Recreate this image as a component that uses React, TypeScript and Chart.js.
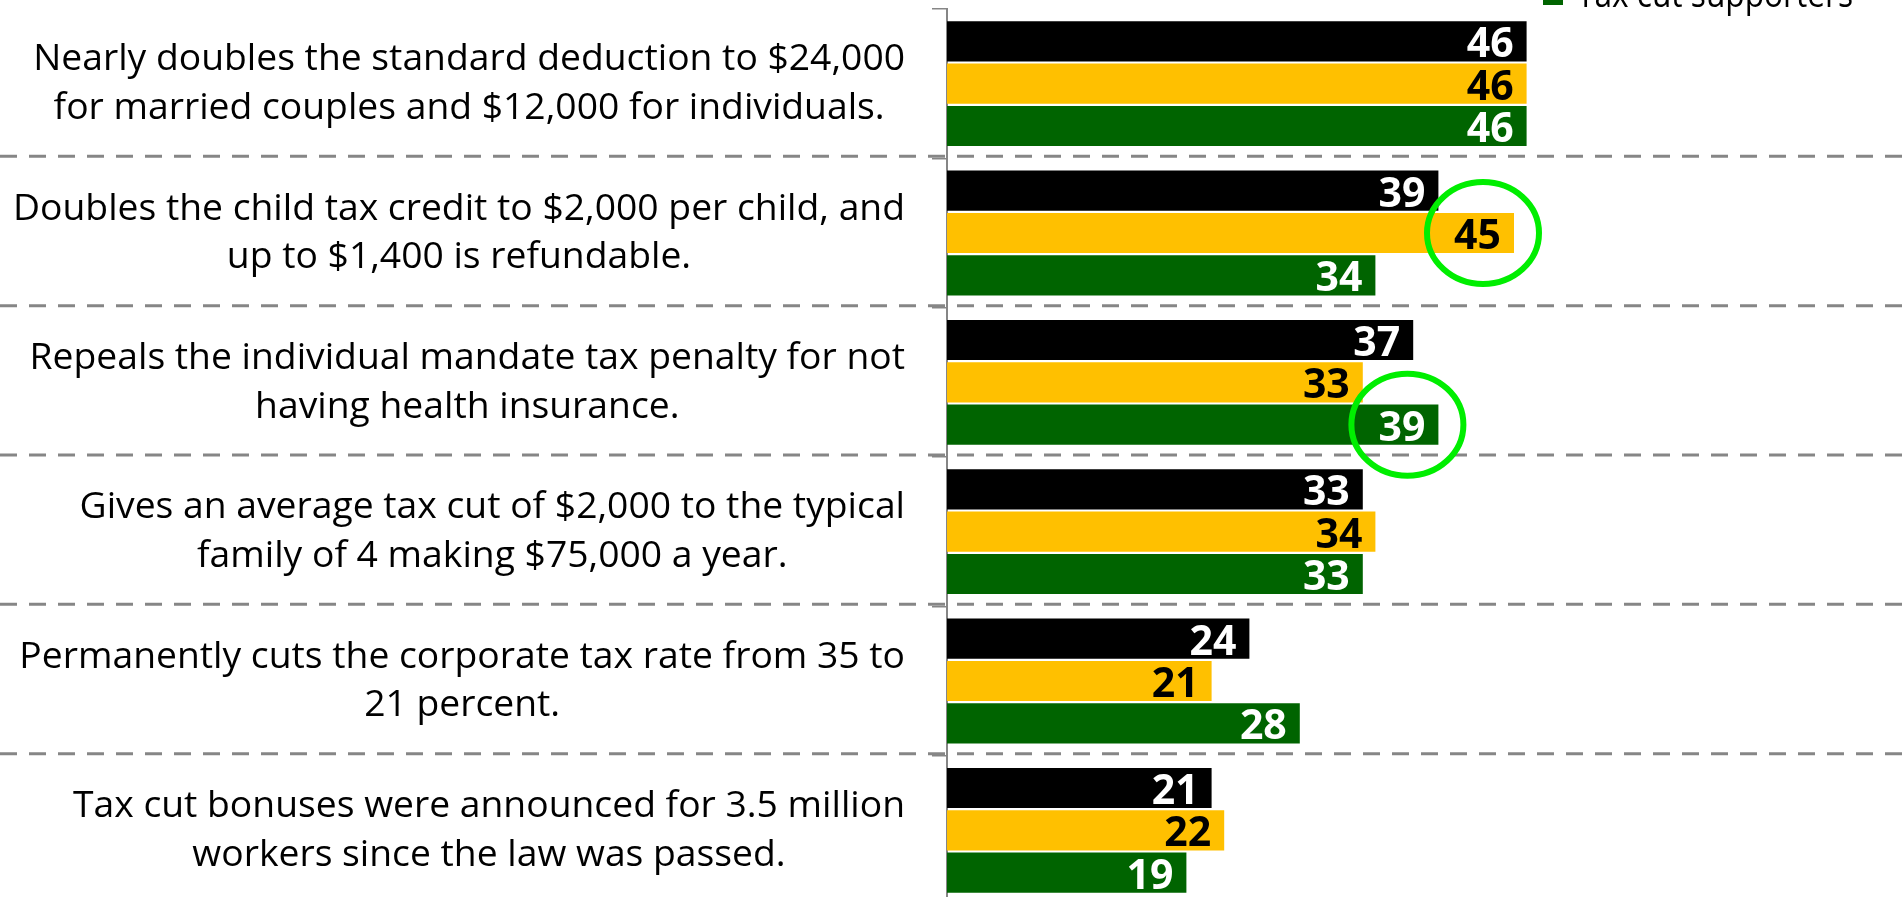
import React, { useEffect, useRef } from "react";
import { Chart, registerables } from "chart.js";

Chart.register(...registerables);

// ---- data ----
const categories: string[][] = [
  ["Nearly doubles the standard deduction to $24,000", "for married couples and $12,000 for individuals."],
  ["Doubles the child tax credit to $2,000 per child, and", "up to $1,400 is refundable."],
  ["Repeals the individual mandate tax penalty for not", "having health insurance."],
  ["Gives an average tax cut of $2,000 to the typical", "family of 4 making $75,000 a year."],
  ["Permanently cuts the corporate tax rate from 35 to", "21 percent."],
  ["Tax cut bonuses were announced for 3.5 million", "workers since the law was passed."],
];
const seriesNames = ["All voters", "Tax cut opponents", "Tax cut supporters"];
const allVoters = [46, 39, 37, 33, 24, 21];
const secondSeries = [46, 45, 33, 34, 21, 22];
const supporters = [46, 34, 39, 33, 28, 19];
const seriesColors = ["#000000", "#FFC000", "#006400"];
const valueLabelColors = ["#FFFFFF", "#000000", "#FFFFFF"];
const highlighted = [
  { dataset: 1, index: 1 },
  { dataset: 2, index: 2 },
];
const xMax = 75;

// ---- layout constants ----
const VIEW_W = 1903;
const VIEW_H = 897;
const CANVAS_H = 920;
const LABEL_FONT = '36px "Open Sans", "DejaVu Sans", sans-serif';
const VALUE_FONT = 'bold 41px "Open Sans", "DejaVu Sans", sans-serif';
const LABEL_TARGET_WIDEST = 892;
const LEGEND_TEXT_WIDTH = 276;
const LINE_GAP = 48.5;
const CAP_HALF = 11;

function labelScale(ctx: CanvasRenderingContext2D) {
  ctx.font = LABEL_FONT;
  let widest = 0;
  categories.forEach((lines) =>
    lines.forEach((l) => {
      widest = Math.max(widest, ctx.measureText(l).width);
    })
  );
  return LABEL_TARGET_WIDEST / widest;
}

const categoryLabelPlugin = {
  id: "categoryLabels",
  afterDraw(chart: any) {
    const ctx: CanvasRenderingContext2D = chart.ctx;
    const yScale = chart.scales.y;
    const left = chart.chartArea.left;
    ctx.save();
    const sx = labelScale(ctx);
    ctx.font = LABEL_FONT;
    ctx.fillStyle = "#000000";
    ctx.textAlign = "center";
    ctx.textBaseline = "alphabetic";
    const rightEdge = left - 42;
    categories.forEach((lines, i) => {
      const cy = yScale.getPixelForValue(i);
      const w = Math.max(...lines.map((l) => ctx.measureText(l).width)) * sx;
      const cx = rightEdge - w / 2;
      lines.forEach((l, j) => {
        const ly = cy + (j - (lines.length - 1) / 2) * LINE_GAP + CAP_HALF;
        ctx.save();
        ctx.translate(cx, ly);
        ctx.scale(sx, 1);
        ctx.fillText(l, 0, 0);
        ctx.restore();
      });
    });

    // legend (stacked, only the last entry falls inside the picture)
    ctx.textAlign = "left";
    const legendX = 1543;
    const lastBaseline = 7;
    const legSx = LEGEND_TEXT_WIDTH / ctx.measureText(seriesNames[seriesNames.length - 1]).width;
    seriesNames.forEach((name, k) => {
      const base = lastBaseline - (seriesNames.length - 1 - k) * LINE_GAP;
      ctx.fillStyle = seriesColors[k];
      ctx.fillRect(legendX, base - 22, 20, 20);
      ctx.fillStyle = "#000000";
      ctx.save();
      ctx.translate(legendX + 34, base);
      ctx.scale(legSx, 1);
      ctx.fillText(name, 0, 0);
      ctx.restore();
    });
    ctx.restore();
  },
};

const separatorPlugin = {
  id: "separators",
  afterDraw(chart: any) {
    const ctx: CanvasRenderingContext2D = chart.ctx;
    const yScale = chart.scales.y;
    ctx.save();
    ctx.strokeStyle = "#868686";
    ctx.lineWidth = 3;
    ctx.setLineDash([17, 12]);
    for (let i = 1; i < categories.length; i++) {
      const yy = (yScale.getPixelForValue(i - 1) + yScale.getPixelForValue(i)) / 2 - 2;
      ctx.beginPath();
      ctx.moveTo(0, yy);
      ctx.lineTo(chart.width, yy);
      ctx.stroke();
    }
    ctx.restore();
  },
};

const valueLabelPlugin = {
  id: "valueLabels",
  afterDatasetsDraw(chart: any) {
    const ctx: CanvasRenderingContext2D = chart.ctx;
    ctx.save();
    ctx.font = VALUE_FONT;
    ctx.textAlign = "right";
    ctx.textBaseline = "alphabetic";
    chart.data.datasets.forEach((ds: any, di: number) => {
      const meta = chart.getDatasetMeta(di);
      meta.data.forEach((bar: any, i: number) => {
        ctx.fillStyle = valueLabelColors[di];
        ctx.fillText(String(ds.data[i]), bar.x - 13, bar.y + 16);
      });
    });
    ctx.restore();
  },
};

const highlightPlugin = {
  id: "highlights",
  afterDraw(chart: any) {
    const ctx: CanvasRenderingContext2D = chart.ctx;
    ctx.save();
    ctx.strokeStyle = "#00EE00";
    ctx.lineWidth = 6;
    highlighted.forEach((h) => {
      const bar: any = chart.getDatasetMeta(h.dataset).data[h.index];
      ctx.beginPath();
      ctx.ellipse(bar.x - 31, bar.y, 56, 51, 0, 0, Math.PI * 2);
      ctx.stroke();
    });
    ctx.restore();
  },
};

export default function App() {
  const canvasRef = useRef<HTMLCanvasElement | null>(null);

  useEffect(() => {
    if (!canvasRef.current) return;
    const seriesData = [allVoters, secondSeries, supporters];
    const chart = new Chart(canvasRef.current, {
      type: "bar",
      data: {
        labels: categories,
        datasets: seriesData.map((d, k) => ({
          label: seriesNames[k],
          data: d,
          backgroundColor: seriesColors[k],
          borderWidth: 0,
          barPercentage: 0.95,
          categoryPercentage: 0.85,
        })),
      },
      options: {
        indexAxis: "y",
        responsive: false,
        animation: false,
        layout: { padding: { left: 932, right: 11, top: 9, bottom: 15 } },
        plugins: {
          legend: { display: false },
          tooltip: { enabled: false },
        },
        scales: {
          x: { display: false, min: 0, max: xMax },
          y: {
            offset: true,
            ticks: { display: false },
            grid: {
              offset: true,
              drawOnChartArea: false,
              drawTicks: true,
              tickLength: 15,
              color: "#868686",
              lineWidth: 1.5,
            },
            border: { display: true, color: "#868686", width: 2 },
          },
        },
      },
      plugins: [separatorPlugin, categoryLabelPlugin, valueLabelPlugin, highlightPlugin],
    } as any);
    return () => chart.destroy();
  }, []);

  return (
    <div
      style={{
        position: "absolute",
        left: 0,
        top: 0,
        width: VIEW_W,
        height: VIEW_H,
        overflow: "hidden",
        background: "#ffffff",
      }}
    >
      <canvas ref={canvasRef} width={VIEW_W} height={CANVAS_H} style={{ display: "block" }} />
    </div>
  );
}
